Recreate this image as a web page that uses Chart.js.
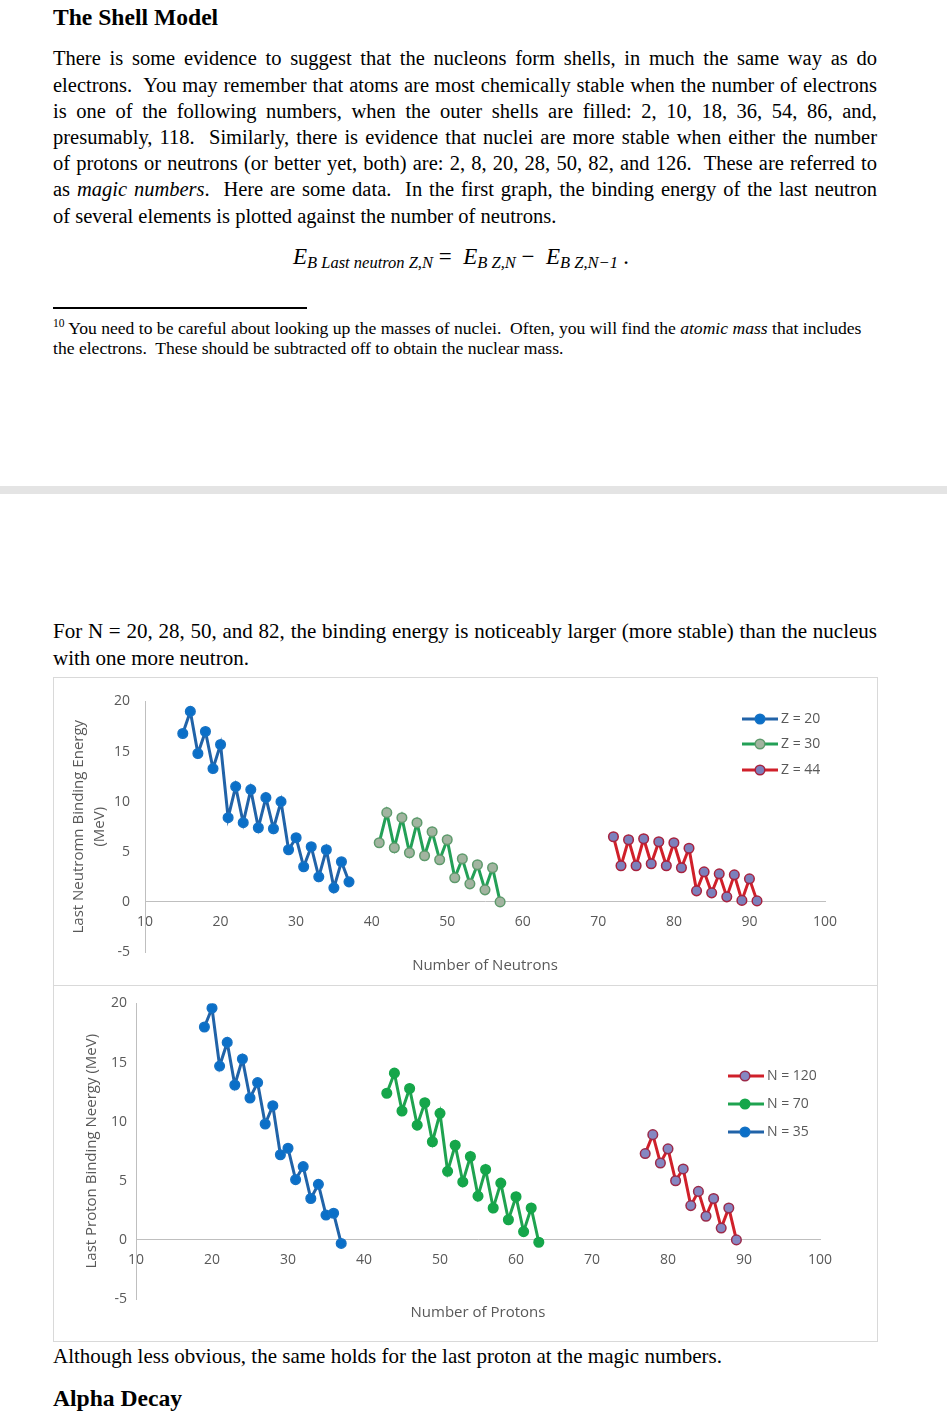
<!DOCTYPE html>
<html>
<head>
<meta charset="utf-8">
<script src="https://cdn.jsdelivr.net/npm/chart.js@4.4.1/dist/chart.umd.min.js"></script>
<style>
  html, body { margin:0; padding:0; background:#fff; }
  #page { position:relative; width:947px; height:1426px; overflow:hidden; background:#fff;
          font-family:'Liberation Serif','Times New Roman',serif; color:#000; }
  .t { position:absolute; left:53px; line-height:1; white-space:pre-wrap; }
  .j { width:824px; text-align:justify; text-align-last:justify; }
  .top { font-size:20.5px; }
  .bot { font-size:21px; }
  .h { font-weight:bold; font-size:23.6px; }
  .eq { position:absolute; left:293px; top:245px; font-size:23px; line-height:1; font-style:italic; white-space:nowrap; }
  .eq sub { font-size:16.5px; vertical-align:-4px; }
  .eq .op { font-style:normal; }
  .fn { font-size:17.6px; }
  .fn sup { font-size:11.5px; vertical-align:7px; }
  canvas { position:absolute; }
</style>
</head>
<body>
<div id="page">
  <div class="t h" style="top:6px;">The Shell Model</div>

  <div class="t top j" style="top:48.3px;">There is some evidence to suggest that the nucleons form shells, in much the same way as do</div>
  <div class="t top j" style="top:74.5px;">electrons.&nbsp; You may remember that atoms are most chemically stable when the number of electrons</div>
  <div class="t top j" style="top:100.7px;">is one of the following numbers, when the outer shells are filled: 2, 10, 18, 36, 54, 86, and,</div>
  <div class="t top j" style="top:126.9px;">presumably, 118.&nbsp; Similarly, there is evidence that nuclei are more stable when either the number</div>
  <div class="t top j" style="top:153.1px;">of protons or neutrons (or better yet, both) are: 2, 8, 20, 28, 50, 82, and 126.&nbsp; These are referred to</div>
  <div class="t top j" style="top:179.3px;">as <i>magic numbers</i>.&nbsp; Here are some data.&nbsp; In the first graph, the binding energy of the last neutron</div>
  <div class="t top" style="top:205.5px;">of several elements is plotted against the number of neutrons.</div>

  <div class="eq">E<sub>B Last neutron Z,N</sub> <span class="op">=</span> &nbsp;E<sub>B Z,N</sub> <span class="op">−</span> &nbsp;E<sub>B Z,N−1</sub> .</div>

  <div style="position:absolute;left:53px;top:307px;width:254px;height:2px;background:#000;"></div>
  <div class="t fn" style="top:318.3px;"><sup>10</sup> You need to be careful about looking up the masses of nuclei.&nbsp; Often, you will find the <i>atomic mass</i> that includes</div>
  <div class="t fn" style="top:340.3px;">the electrons.&nbsp; These should be subtracted off to obtain the nuclear mass.</div>

  <div style="position:absolute;left:0;top:486px;width:947px;height:8px;background:#e4e4e4;"></div>

  <div class="t bot j" style="top:621.4px;">For N = 20, 28, 50, and 82, the binding energy is noticeably larger (more stable) than the nucleus</div>
  <div class="t bot" style="top:648.4px;">with one more neutron.</div>

  <div style="position:absolute;left:53px;top:677px;width:825px;height:665px;border:1px solid #d9d9d9;box-sizing:border-box;"></div>
  <div style="position:absolute;left:53px;top:985px;width:825px;height:1px;background:#d9d9d9;"></div>
  <canvas id="c1" width="823" height="306" style="left:54px;top:678px;"></canvas>
  <canvas id="c2" width="823" height="355" style="left:54px;top:986px;"></canvas>

  <div class="t bot" style="top:1346.4px;">Although less obvious, the same holds for the last proton at the magic numbers.</div>
  <div class="t h" style="top:1387.2px;">Alpha Decay</div>
</div>

<script>
// ---------- DATA ----------
// Chart 1: last neutron binding energy (MeV) vs number of neutrons
const neutronsZ20 = [15,16,17,18,19,20,21,22,23,24,25,26,27,28,29,30,31,32,33,34,35,36,37];
const energyZ20   = [16.8,19.0,14.8,17.0,13.3,15.7,8.4,11.5,7.9,11.2,7.4,10.4,7.3,10.0,5.2,6.4,3.5,5.5,2.5,5.2,1.4,4.0,2.0];
const neutronsZ30 = [41,42,43,44,45,46,47,48,49,50,51,52,53,54,55,56,57];
const energyZ30   = [5.9,8.9,5.4,8.4,4.9,7.9,4.6,7.0,4.2,6.2,2.4,4.3,1.8,3.7,1.2,3.4,0.0];
const neutronsZ44 = [72,73,74,75,76,77,78,79,80,81,82,83,84,85,86,87,88,89,90,91];
const energyZ44   = [6.5,3.6,6.2,3.6,6.3,3.8,6.0,3.6,5.9,3.4,5.35,1.1,3.0,0.9,2.8,0.5,2.7,0.15,2.3,0.1];

// Chart 2: last proton binding energy (MeV) vs number of protons
const protonsN35  = [19,20,21,22,23,24,25,26,27,28,29,30,31,32,33,34,35,36,37];
const energyN35   = [18.0,19.6,14.7,16.7,13.1,15.3,12.0,13.3,9.8,11.35,7.2,7.75,5.1,6.2,3.5,4.7,2.1,2.25,-0.3];
const protonsN70  = [43,44,45,46,47,48,49,50,51,52,53,54,55,56,57,58,59,60,61,62,63];
const energyN70   = [12.4,14.1,10.9,12.8,9.7,11.6,8.3,10.7,5.8,8.0,4.9,7.05,3.7,5.95,2.7,4.8,1.7,3.65,0.7,2.7,-0.2];
const protonsN120 = [77,78,79,80,81,82,83,84,85,86,87,88,89];
const energyN120  = [7.3,8.9,6.5,7.7,5.0,6.0,2.9,4.1,2.0,3.5,1.0,2.7,0.0];

// Tick labels
const xTickValues = [10,20,30,40,50,60,70,80,90,100];
const yTickValues = [-5,0,5,10,15,20];

// Labels
const seriesLabels1 = ['Z = 20','Z = 30','Z = 44'];
const seriesLabels2 = ['N = 35','N = 70','N = 120'];
const yTitle1 = ['Last Neutromn Binding Energy','(MeV)'];
const yTitle2 = 'Last Proton Binding Neergy (MeV)';
const xTitle1 = 'Number of Neutrons';
const xTitle2 = 'Number of Protons';

// ---------- STYLES ----------
const AXIS_COLOR = '#BFBFBF';
const TEXT_COLOR = '#595959';
const FONT = "'Open Sans', 'Noto Sans', sans-serif";

function pts(xs, ys){ return xs.map((x,i)=>({x:x, y:ys[i]})); }

function ds(label, xs, ys, line, fill, border){
  return { label, data: pts(xs, ys), showLine:true, borderColor:line, borderWidth:3,
    pointRadius:4.8, pointHoverRadius:4.8, pointBackgroundColor:fill, pointBorderColor:border,
    pointBorderWidth:1.5, tension:0, fill:false };
}

const bottomTitle = {
  id:'bottomTitle',
  afterDraw(chart, args, opts){
    const ctx = chart.ctx, a = chart.chartArea;
    ctx.save();
    ctx.font = '15px ' + FONT;
    ctx.fillStyle = TEXT_COLOR;
    ctx.textAlign = 'center';
    ctx.textBaseline = 'middle';
    ctx.fillText(opts.text, (a.left + a.right)/2, a.bottom + opts.offset);
    ctx.restore();
  }
};

const lineLegend = {
  id:'lineLegend',
  afterDraw(chart, args, opts){
    const ctx = chart.ctx;
    ctx.save();
    opts.order.forEach((di, r) => {
      const d = chart.data.datasets[di];
      const y = opts.rows[r];
      ctx.strokeStyle = d.borderColor; ctx.lineWidth = 3;
      ctx.beginPath(); ctx.moveTo(opts.x1, y); ctx.lineTo(opts.x2, y); ctx.stroke();
      ctx.beginPath(); ctx.arc(opts.mx, y, 4.8, 0, Math.PI*2);
      ctx.fillStyle = d.pointBackgroundColor; ctx.fill();
      ctx.lineWidth = 1.5; ctx.strokeStyle = d.pointBorderColor; ctx.stroke();
      ctx.font = '14px ' + FONT; ctx.fillStyle = TEXT_COLOR;
      ctx.textAlign = 'left'; ctx.textBaseline = 'middle';
      ctx.fillText(d.label, opts.tx, y);
    });
    ctx.restore();
  }
};

function makeOptions(cfg){
  return {
    responsive:false, animation:false, events:[],
    layout:{ padding: cfg.padding },
    plugins:{
      legend:{display:false}, tooltip:{enabled:false},
      bottomTitle:{ text: cfg.xTitle, offset:14 },
      lineLegend: cfg.legend
    },
    scales:{
      x:{ type:'linear', min:10, max:100, position:{y:0},
          grid:{display:false, drawTicks:false},
          border:{display:true, color:AXIS_COLOR, width:1},
          ticks:{ padding:12, color:TEXT_COLOR, font:{family:FONT, size:14}, maxRotation:0, autoSkip:false },
          afterBuildTicks: s => { s.ticks = xTickValues.map(v => ({value:v})); } },
      y:{ type:'linear', min:-5, max:20, position:'left',
          grid:{display:false, drawTicks:false},
          border:{display:true, color:AXIS_COLOR, width:1},
          ticks:{ padding:cfg.yPad, color:TEXT_COLOR, font:{family:FONT, size:14} },
          afterBuildTicks: s => { s.ticks = yTickValues.map(v => ({value:v})); },
          afterFit: s => { s.width = cfg.yWidth; },
          title:{ display:true, text:cfg.yTitle, color:TEXT_COLOR,
                  font:{family:FONT, size:15, lineHeight:1.4}, padding:{top:cfg.titlePad, bottom:0} } }
    }
  };
}

new Chart(document.getElementById('c1'), {
  type:'scatter',
  data:{ datasets:[
    ds(seriesLabels1[0], neutronsZ20, energyZ20, '#2163A8', '#0A6FC8', '#1672C4'),
    ds(seriesLabels1[1], neutronsZ30, energyZ30, '#23A057', '#A2B4A0', '#5E9A6C'),
    ds(seriesLabels1[2], neutronsZ44, energyZ44, '#D0202A', '#7C80BC', '#A8223E')
  ]},
  options: makeOptions({
    padding:{left:0, top:16, right:52, bottom:32}, yWidth:91, yPad:15, titlePad:14.5,
    yTitle:yTitle1, xTitle:xTitle1,
    legend:{ order:[0,1,2], rows:[41,66,92], x1:688, x2:724, mx:706, tx:727 }
  }),
  plugins:[bottomTitle, lineLegend]
});

new Chart(document.getElementById('c2'), {
  type:'scatter',
  data:{ datasets:[
    ds(seriesLabels2[0], protonsN35, energyN35, '#2163A8', '#0A6FC8', '#1672C4'),
    ds(seriesLabels2[1], protonsN70, energyN70, '#1FA350', '#15A64A', '#15A64A'),
    ds(seriesLabels2[2], protonsN120, energyN120, '#D0202A', '#8587C2', '#9B2A4A')
  ]},
  options: makeOptions({
    padding:{left:0, top:17, right:57, bottom:42}, yWidth:82, yPad:9, titlePad:27.5,
    yTitle:yTitle2, xTitle:xTitle2,
    legend:{ order:[2,1,0], rows:[90,118,146], x1:674, x2:710, mx:691, tx:713 }
  }),
  plugins:[bottomTitle, lineLegend]
});
</script>
</body>
</html>
